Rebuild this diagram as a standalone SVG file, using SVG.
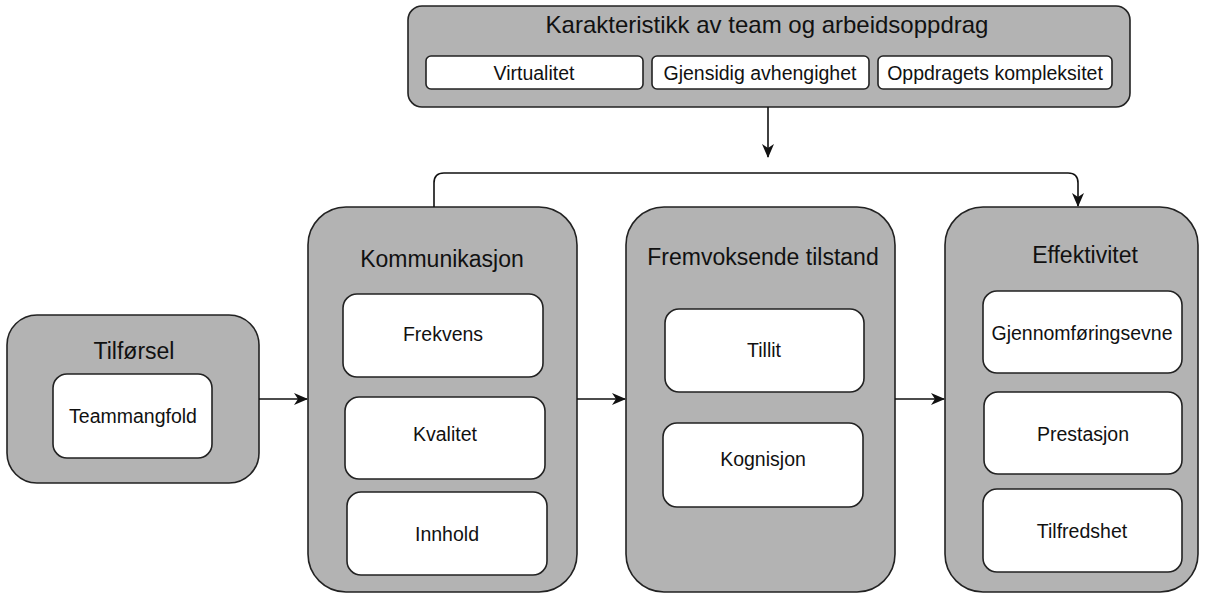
<svg xmlns="http://www.w3.org/2000/svg" width="1207" height="598" viewBox="0 0 1207 598">
<defs>
<style>
.outer{fill:#b3b3b3;stroke:#222;stroke-width:1.6}
.inner{fill:#fff;stroke:#222;stroke-width:1.6}
.title{font-family:"Liberation Sans",Arial,Helvetica,sans-serif;font-size:23px;fill:#111;text-anchor:middle}
.ttl{font-family:"Liberation Sans",Arial,Helvetica,sans-serif;font-size:24px;fill:#111;text-anchor:middle}
.lbl{font-family:"Liberation Sans",Arial,Helvetica,sans-serif;font-size:19.5px;fill:#111;text-anchor:middle}
.conn{fill:none;stroke:#111;stroke-width:1.6}
</style>
<marker id="arr" viewBox="0 0 14 12" refX="13" refY="6" markerWidth="14" markerHeight="12" markerUnits="userSpaceOnUse" orient="auto">
<path d="M0,0 L14,6 L0,12 L4,6 Z" fill="#111"/>
</marker>
</defs>

<g id="karakteristikk">
<rect class="outer" x="408" y="6" width="722" height="101" rx="14"/>
<text class="ttl" x="767" y="33">Karakteristikk av team og arbeidsoppdrag</text>
<rect class="inner" x="426" y="56" width="217" height="33" rx="5"/>
<text class="lbl" x="534" y="80">Virtualitet</text>
<rect class="inner" x="652" y="56" width="217" height="33" rx="5"/>
<text class="lbl" x="760" y="80">Gjensidig avhengighet</text>
<rect class="inner" x="878" y="56" width="234" height="33" rx="5"/>
<text class="lbl" x="995" y="80">Oppdragets kompleksitet</text>
</g>

<g id="tilforsel">
<rect class="outer" x="7" y="315" width="252" height="168" rx="30"/>
<text class="title" x="134" y="359">Tilførsel</text>
<rect class="inner" x="53" y="374" width="159" height="84" rx="14"/>
<text class="lbl" x="133" y="423">Teammangfold</text>
</g>

<g id="kommunikasjon">
<rect class="outer" x="308" y="207" width="269" height="385" rx="38"/>
<text class="title" x="442" y="267">Kommunikasjon</text>
<rect class="inner" x="343" y="294" width="200" height="83" rx="14"/>
<text class="lbl" x="443" y="341">Frekvens</text>
<rect class="inner" x="345" y="397" width="200" height="82" rx="14"/>
<text class="lbl" x="445" y="441">Kvalitet</text>
<rect class="inner" x="347" y="492" width="200" height="83" rx="14"/>
<text class="lbl" x="447" y="541">Innhold</text>
</g>

<g id="fremvoksende">
<rect class="outer" x="626" y="207" width="269" height="385" rx="38"/>
<text class="title" x="763" y="265">Fremvoksende tilstand</text>
<rect class="inner" x="665" y="309" width="199" height="83" rx="14"/>
<text class="lbl" x="764" y="357">Tillit</text>
<rect class="inner" x="663" y="423" width="200" height="84" rx="14"/>
<text class="lbl" x="763" y="466">Kognisjon</text>
</g>

<g id="effektivitet">
<rect class="outer" x="945" y="207" width="253" height="385" rx="38"/>
<text class="title" x="1085" y="263">Effektivitet</text>
<rect class="inner" x="983" y="291" width="199" height="82" rx="14"/>
<text class="lbl" x="1082" y="340">Gjennomføringsevne</text>
<rect class="inner" x="984" y="392" width="198" height="82" rx="14"/>
<text class="lbl" x="1083" y="441">Prestasjon</text>
<rect class="inner" x="983" y="489" width="199" height="83" rx="14"/>
<text class="lbl" x="1082" y="538">Tilfredshet</text>
</g>

<g id="connectors">
<path class="conn" d="M768,107 L768,157" marker-end="url(#arr)"/>
<path class="conn" d="M259,399 L307,399" marker-end="url(#arr)"/>
<path class="conn" d="M577,399 L625,399" marker-end="url(#arr)"/>
<path class="conn" d="M895,399 L944,399" marker-end="url(#arr)"/>
<path class="conn" d="M434,207 L434,183 Q434,173 444,173 L1068,173 Q1078,173 1078,183 L1078,206" marker-end="url(#arr)"/>
</g>
</svg>
